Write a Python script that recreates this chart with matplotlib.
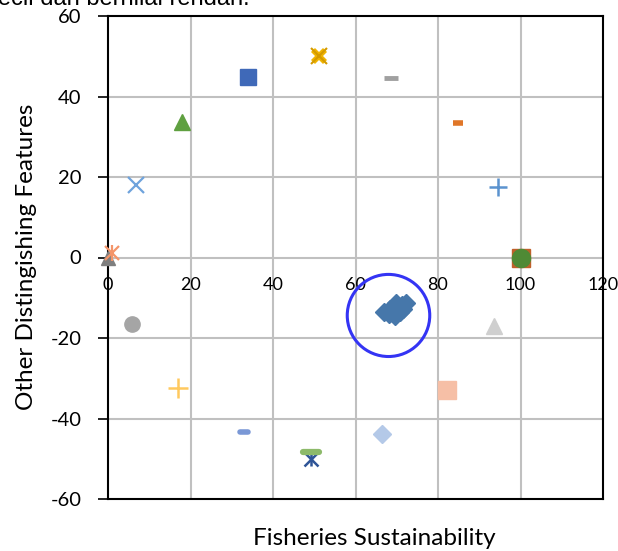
"""
plot.py - scatter of fisheries sustainability vs other distinguishing features.
Saves out.png (~618x551 px).
"""
import matplotlib
matplotlib.use("Agg")
import matplotlib.pyplot as plt
from matplotlib.patches import Ellipse
from matplotlib.transforms import offset_copy

# ---- data ------------------------------------------------------------------
# single points: (x, y)
grey_tri = (0.0, 0.0)
coral_star = (1.0, 1.0)
grey_circle = (5.8, -16.4)
lightblue_x = (6.8, 17.9)
green_tri = (17.9, 33.7)
blue_square = (34.0, 44.9)
gold_x = (51.2, 50.1)
grey_dash = (68.6, 44.7)
orange_dash = (84.8, 33.3)
blue_plus = (94.5, 17.4)
brown_square = (100.0, 0.0)
green_circle = (100.0, 0.0)
lightgrey_tri = (93.6, -16.9)
salmon_square = (82.2, -33.0)
lightblue_diamond = (66.4, -43.9)
green_dash = (49.2, -48.4)
navy_star = (49.2, -50.0)
small_blue_dash = (33.0, -43.4)
yellow_plus = (17.0, -32.3)

# the cluster of blue diamonds
cluster_x = [66.9, 68.4, 69.8, 71.3, 72.2, 69.6, 70.8, 69.8, 68.0, 71.5]
cluster_y = [-13.6, -12.9, -12.4, -11.7, -11.2, -14.6, -13.6, -11.3, -14.0, -12.8]

# highlight circle (centre, width, height in data units)
circle_center = (68.0, -14.4)
circle_w, circle_h = 20.0, 20.4

x_ticks = [0, 20, 40, 60, 80, 100, 120]
y_ticks = [-60, -40, -20, 0, 20, 40, 60]

plt.rcParams["font.family"] = ["Lato", "DejaVu Sans"]

fig = plt.figure(figsize=(6.18, 5.51), dpi=100)
ax = fig.add_axes([108 / 618, 1 - 499 / 551, 495 / 618, 483 / 551])
ax.set_xlim(0, 120)
ax.set_ylim(-60, 60)

# gridlines
for v in x_ticks[1:-1]:
    ax.axvline(v, color="#c0c0c0", lw=1.5, zorder=0)
for v in y_ticks[1:-1]:
    ax.axhline(v, color="#c0c0c0", lw=1.5, zorder=0)

for s in ax.spines.values():
    s.set_color("black")
    s.set_linewidth(1.5)

ax.set_xticks([])
ax.set_yticks(y_ticks)
ax.set_yticklabels([str(t) for t in y_ticks], fontsize=14.5)
ax.tick_params(axis="y", direction="out", length=7, width=1.2, pad=12)

# x tick labels sit just under the y = 0 line
lab_tr = offset_copy(ax.transData, fig=fig, x=0, y=-20, units="dots")
for t in x_ticks:
    ax.text(t, 0, str(t), transform=lab_tr, fontsize=13, ha="center", va="top")

fig.text(27 / 618, 1 - 257 / 551, "Other Distingishing Features", fontsize=17.5,
         rotation=90, ha="center", va="center")
fig.text(374 / 618, 1 - 545 / 551, "Fisheries Sustainability", fontsize=17.5,
         ha="center", va="baseline")

# clipped line of text from the page above
fig.text(250 / 618, 1 - 5 / 551, "kecil dan bernilai rendah.", fontsize=17,
         family="Liberation Sans", ha="right", va="baseline")


def pt(p, **kw):
    ax.plot([p[0]], [p[1]], linestyle="none", clip_on=False, **kw)


pt(grey_tri, marker="^", ms=10, color="#7f7f7f", zorder=3)
pt(coral_star, marker="x", ms=10, mew=1.6, color="#f4956a", zorder=4)
pt(coral_star, marker="|", ms=12, mew=1.6, color="#f4956a", zorder=4)
pt(grey_circle, marker="o", ms=11, color="#a5a5a5", zorder=3)
pt(lightblue_x, marker="x", ms=11, mew=1.6, color="#6fa3dc", zorder=3)
pt(green_tri, marker="^", ms=11, color="#5fa040", zorder=3)
pt(blue_square, marker="s", ms=11, color="#3f69b8", zorder=3)
pt(gold_x, marker="X", ms=12, color="#f0b400", mew=0, zorder=3)
pt(gold_x, marker="x", ms=12, mew=1.5, color="#d49a00", zorder=3)
ax.plot([grey_dash[0] - 1.8, grey_dash[0] + 1.8], [grey_dash[1]] * 2,
        color="#a0a0a0", lw=3.5, solid_capstyle="butt", zorder=3)
ax.plot([orange_dash[0] - 1.2, orange_dash[0] + 1.2], [orange_dash[1]] * 2,
        color="#e07628", lw=4, solid_capstyle="butt", zorder=3)
pt(blue_plus, marker="+", ms=13, mew=1.8, color="#5b93cf", zorder=3)
pt(brown_square, marker="s", ms=13, color="#c0602a", zorder=3)
pt(green_circle, marker="o", ms=13, color="#4f8a35", zorder=4)
pt(lightgrey_tri, marker="^", ms=11, color="#cfcfcf", zorder=3)
pt(salmon_square, marker="s", ms=13, color="#f6bfa6", zorder=3)
pt(lightblue_diamond, marker="D", ms=9, color="#b4c9e8", zorder=3)
ax.plot([green_dash[0] - 2.0, green_dash[0] + 2.0], [green_dash[1]] * 2,
        color="#8dba6a", lw=4.5, solid_capstyle="round", zorder=4)
pt(navy_star, marker="x", ms=10, mew=1.8, color="#2f5597", zorder=3)
pt(navy_star, marker="|", ms=10, mew=1.8, color="#2f5597", zorder=3)
ax.plot([small_blue_dash[0] - 1.0, small_blue_dash[0] + 1.0], [small_blue_dash[1]] * 2,
        color="#7a98d6", lw=4, solid_capstyle="round", zorder=3)
pt(yellow_plus, marker="+", ms=14, mew=1.8, color="#ffc95e", zorder=3)

ax.plot(cluster_x, cluster_y, linestyle="none", marker="D", ms=9,
        color="#4677aa", zorder=3)

ax.add_patch(Ellipse(circle_center, circle_w, circle_h, fill=False,
                     edgecolor="#3434f4", lw=2.2, zorder=5))

fig.savefig("out.png", dpi=100)
